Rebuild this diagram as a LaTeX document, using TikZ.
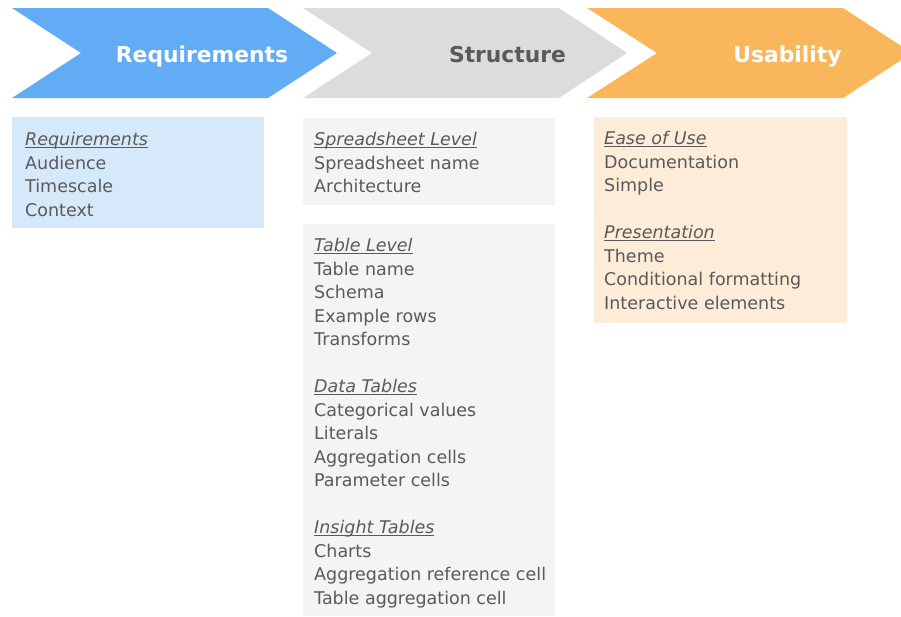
\documentclass[tikz,border=0pt]{standalone}
\usepackage{fontspec}
\setmainfont{DejaVu Sans}
\usepackage{tikz}
\usepackage{color}

\definecolor{reqblue}{HTML}{62ACF6}
\definecolor{strgray}{HTML}{DCDCDC}
\definecolor{usaorange}{HTML}{FAB65A}
\definecolor{reqbox}{HTML}{D6E9FB}
\definecolor{strbox}{HTML}{F4F4F4}
\definecolor{usabox}{HTML}{FDECD8}
\definecolor{txtgray}{HTML}{5A5A5A}

% italic heading with a thin underline just under the baseline
\newcommand{\headline}[1]{\setbox0\hbox{\itshape #1}\rlap{\rule[-1.9pt]{\wd0}{0.8pt}}\box0}

\begin{document}
\begin{tikzpicture}[x=1pt,y=-1pt,
  title/.style={anchor=base,inner sep=0pt,font=\fontsize{21.8}{26}\selectfont\bfseries},
  item/.style={anchor=base west,inner sep=0pt,text=txtgray,font=\fontsize{17.5}{21}\selectfont},
  head/.style={item}]
\clip (0,0) rectangle (901,616);
% chevrons
\fill [reqblue] (12,8) -- (268,8) -- (337,53) -- (268,98) -- (12,98) -- (81,53) -- cycle;
\fill [strgray] (303,8) -- (559,8) -- (627,53) -- (559,98) -- (303,98) -- (372,53) -- cycle;
\fill [usaorange] (587,8) -- (843,8) -- (912,53) -- (843,98) -- (587,98) -- (657,53) -- cycle;
\node [title,text=white] (req) at (202,62.5) {Requirements};
\node [title,text=txtgray] (str) at (507.5,62.5) {Structure};
\node [title,text=white] (usa) at (787.5,62.5) {Usability};
% boxes
\fill [reqbox] (12,117) rectangle (264,228);
\fill [strbox] (303,118) rectangle (555,205);
\fill [strbox] (303,224) rectangle (555,616);
\fill [usabox] (594,117) rectangle (847,323);
% requirements
\node [head] (reqh) at (25,145.5) {\headline{Requirements}};
\foreach \txt [count=\i] in {Audience,Timescale,Context}
  \node [item] (req-\i) at (25,145.5+23.5*\i) {\txt};
% spreadsheet level
\node [head] (sheeth) at (314,145.5) {\headline{Spreadsheet Level}};
\foreach \txt [count=\i] in {Spreadsheet name,Architecture}
  \node [item] (sheet-\i) at (314,145.5+23.5*\i) {\txt};
% table level
\node [head] (tableh) at (314,251.5) {\headline{Table Level}};
\foreach \txt [count=\i] in {Table name,Schema,Example rows,Transforms}
  \node [item] (table-\i) at (314,251.5+23.5*\i) {\txt};
\node [head] (datah) at (314,392.5) {\headline{Data Tables}};
\foreach \txt [count=\i] in {Categorical values,Literals,Aggregation cells,Parameter cells}
  \node [item] (data-\i) at (314,392.5+23.5*\i) {\txt};
\node [head] (insh) at (314,533.5) {\headline{Insight Tables}};
\foreach \txt [count=\i] in {Charts,Aggregation reference cell,Table aggregation cell}
  \node [item] (ins-\i) at (314,533.5+23.5*\i) {\txt};
% usability
\node [head] (easeh) at (604,144.5) {\headline{Ease of Use}};
\foreach \txt [count=\i] in {Documentation,Simple}
  \node [item] (ease-\i) at (604,144.5+23.5*\i) {\txt};
\node [head] (presh) at (604,238.5) {\headline{Presentation}};
\foreach \txt [count=\i] in {Theme,Conditional formatting,Interactive elements}
  \node [item] (pres-\i) at (604,238.5+23.5*\i) {\txt};
\end{tikzpicture}
\end{document}
